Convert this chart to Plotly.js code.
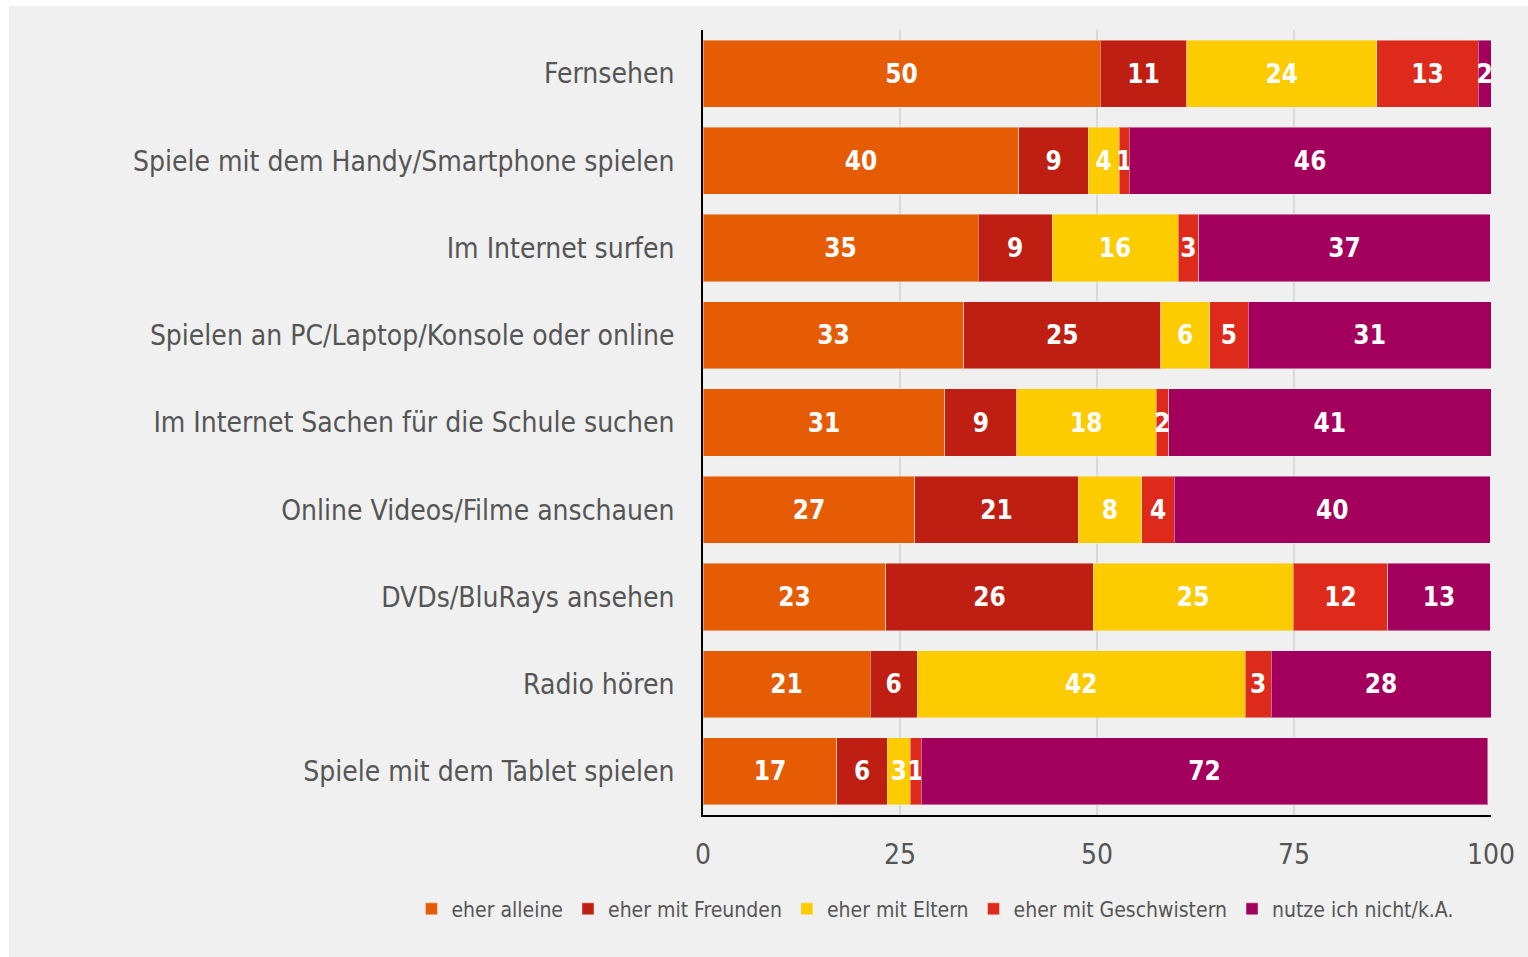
<!DOCTYPE html>
<html>
<head>
<meta charset="utf-8">
<script src="https://cdn.plot.ly/plotly-3.0.1.min.js"></script>
<style>
  html, body { margin: 0; padding: 0; background: #ffffff; }
  #chart { position: absolute; left: 9px; top: 6px; width: 1519px; height: 951px; }
</style>
</head>
<body>
<div id="chart"></div>
<script>
const categories = [
  "Fernsehen",
  "Spiele mit dem Handy/Smartphone spielen",
  "Im Internet surfen",
  "Spielen an PC/Laptop/Konsole oder online",
  "Im Internet Sachen für die Schule suchen",
  "Online Videos/Filme anschauen",
  "DVDs/BluRays ansehen",
  "Radio hören",
  "Spiele mit dem Tablet spielen"
];
const seriesNames = ["eher alleine", "eher mit Freunden", "eher mit Eltern", "eher mit Geschwistern", "nutze ich nicht/k.A."];
const eherAlleine      = [50.4, 40.1, 34.9, 33.1, 30.7, 26.9, 23.2, 21.2, 17.0];
const eherMitFreunden  = [11.0,  8.8,  9.4, 25.0,  9.1, 20.7, 26.3,  6.0,  6.4];
const eherMitEltern    = [24.1,  3.9, 16.0,  6.2, 17.7,  8.1, 25.4, 41.6,  2.9];
const eherMitGeschw    = [12.9,  1.3,  2.6,  4.9,  1.6,  4.1, 12.0,  3.3,  1.4];
const nutzeNicht       = [ 1.6, 45.9, 37.0, 30.8, 40.9, 40.1, 13.0, 27.9, 71.9];
const xTicks = [0, 25, 50, 75, 100];

const colors = ["#E65C05", "#BF1E12", "#FCCB00", "#DE2A1B", "#A3005E"];
const seriesValues = [eherAlleine, eherMitFreunden, eherMitEltern, eherMitGeschw, nutzeNicht];
const FONT = "'DejaVu Sans Condensed', 'DejaVu Sans', sans-serif";

const traces = seriesValues.map((vals, i) => ({
  type: "bar",
  orientation: "h",
  name: seriesNames[i],
  y: categories,
  x: vals,
  marker: { color: colors[i], line: { color: "rgba(240,240,240,0.45)", width: 1 } },
  texttemplate: "%{x:.0f}",
  textposition: "inside",
  insidetextanchor: "middle",
  constraintext: "none",
  cliponaxis: false,
  textfont: { family: FONT, size: 26, color: "#ffffff", weight: "bold" },
  hoverinfo: "name+x"
}));

const layout = {
  barmode: "stack",
  bargap: 0.23,
  width: 1519,
  height: 951,
  paper_bgcolor: "#f0f0f0",
  plot_bgcolor: "#f0f0f0",
  margin: { l: 694, r: 37, t: 24, b: 142 },
  font: { family: FONT, color: "#555555" },
  showlegend: true,
  legend: {
    orientation: "h",
    xref: "paper",
    x: -0.37,
    xanchor: "left",
    yref: "paper",
    y: -0.12,
    yanchor: "middle",
    font: { family: FONT, size: 21, color: "#555555" },
    traceorder: "normal",
    bgcolor: "rgba(0,0,0,0)"
  },
  xaxis: {
    range: [0, 100],
    tickvals: xTicks,
    ticktext: xTicks.map(String),
    showgrid: true,
    gridcolor: "#d9d9d9",
    gridwidth: 1.5,
    zeroline: false,
    showline: true,
    linecolor: "#000000",
    linewidth: 2,
    ticks: "",
    ticklabelstandoff: 13,
    tickfont: { family: FONT, size: 28, color: "#555555" },
    fixedrange: true
  },
  yaxis: {
    categoryorder: "array",
    categoryarray: categories,
    autorange: "reversed",
    showgrid: false,
    zeroline: false,
    showline: true,
    linecolor: "#000000",
    linewidth: 2,
    ticks: "",
    ticklabelstandoff: 21,
    tickfont: { family: FONT, size: 28, color: "#555555" },
    fixedrange: true
  }
};

Plotly.newPlot("chart", traces, layout, { displayModeBar: false, staticPlot: true });
</script>
</body>
</html>
